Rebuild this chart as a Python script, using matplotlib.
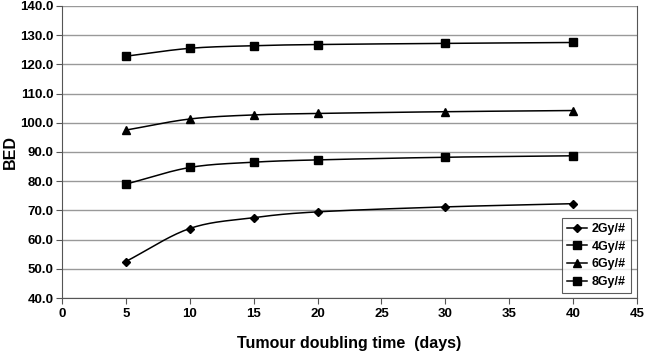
import numpy as np
import matplotlib.pyplot as plt

plt.rcParams['font.family'] = ['Liberation Sans', 'DejaVu Sans']
plt.rcParams['font.weight'] = 'bold'

doubling_days = [5, 10, 15, 20, 30, 40]
bed_2gy = [52.5, 63.8, 67.5, 69.5, 71.2, 72.3]
bed_4gy = [79.0, 84.7, 86.5, 87.3, 88.2, 88.7]
bed_6gy = [97.5, 101.3, 102.7, 103.2, 103.8, 104.2]
bed_8gy = [122.8, 125.5, 126.4, 126.8, 127.2, 127.5]
labels = ['2Gy/#', '4Gy/#', '6Gy/#', '8Gy/#']
markers = ['D', 's', '^', 's']
msizes = [4, 6, 6, 6]


def smooth(x, y, n=30):
    # catmull-rom style curve through the points, like excel's smoothed line
    x = np.asarray(x, float)
    y = np.asarray(y, float)
    px = np.concatenate([[2 * x[0] - x[1]], x, [2 * x[-1] - x[-2]]])
    py = np.concatenate([[2 * y[0] - y[1]], y, [2 * y[-1] - y[-2]]])
    xs, ys = [], []
    t = np.linspace(0, 1, n)
    for i in range(1, len(px) - 2):
        for p, out in ((px, xs), (py, ys)):
            p0, p1, p2, p3 = p[i - 1], p[i], p[i + 1], p[i + 2]
            out.extend(0.5 * ((2 * p1) + (-p0 + p2) * t
                              + (2 * p0 - 5 * p1 + 4 * p2 - p3) * t ** 2
                              + (-p0 + 3 * p1 - 3 * p2 + p3) * t ** 3))
    return xs, ys


fig = plt.figure(figsize=(6.47, 3.52), dpi=100)
ax = fig.add_axes([0.0958, 0.1534, 0.8887, 0.8296])

for series, lab, m, ms in zip([bed_2gy, bed_4gy, bed_6gy, bed_8gy], labels, markers, msizes):
    sx, sy = smooth(doubling_days, series)
    ax.plot(sx, sy, color='black', lw=1.1)
    ax.plot(doubling_days, series, ls='none', marker=m, ms=ms, color='black')
    ax.plot([], [], color='black', lw=1.1, marker=m, ms=ms, label=lab)

ax.set_xlim(0, 45)
ax.set_ylim(40, 140)
ax.set_xticks(range(0, 46, 5))
ax.set_yticks(range(40, 141, 10))
ax.set_yticklabels([f'{v:.1f}' for v in range(40, 141, 10)])
ax.grid(axis='y', color='#999999', lw=1)
ax.set_axisbelow(True)
ax.spines['top'].set_visible(False)
for s in ['left', 'bottom', 'right']:
    ax.spines[s].set_color('#555555')
ax.tick_params(labelsize=9.5, length=4, color='#555555', direction='out')
ax.tick_params(axis='y', pad=2)
for lab in ax.get_xticklabels() + ax.get_yticklabels():
    lab.set_fontweight('bold')

ax.set_xlabel('Tumour doubling time  (days)', fontsize=11.5, fontweight='bold', labelpad=11)
ax.set_ylabel('BED', fontsize=11.5, fontweight='bold', labelpad=2)

leg = ax.legend(loc='lower right', bbox_to_anchor=(0.99, 0.017), borderaxespad=0,
                fontsize=9, frameon=True, fancybox=False, edgecolor='#333333',
                handlelength=1.6, handletextpad=0.4, borderpad=0.4, labelspacing=0.45)
leg.get_frame().set_linewidth(0.8)
for t in leg.get_texts():
    t.set_fontweight('bold')

fig.savefig('out.png', dpi=100)
